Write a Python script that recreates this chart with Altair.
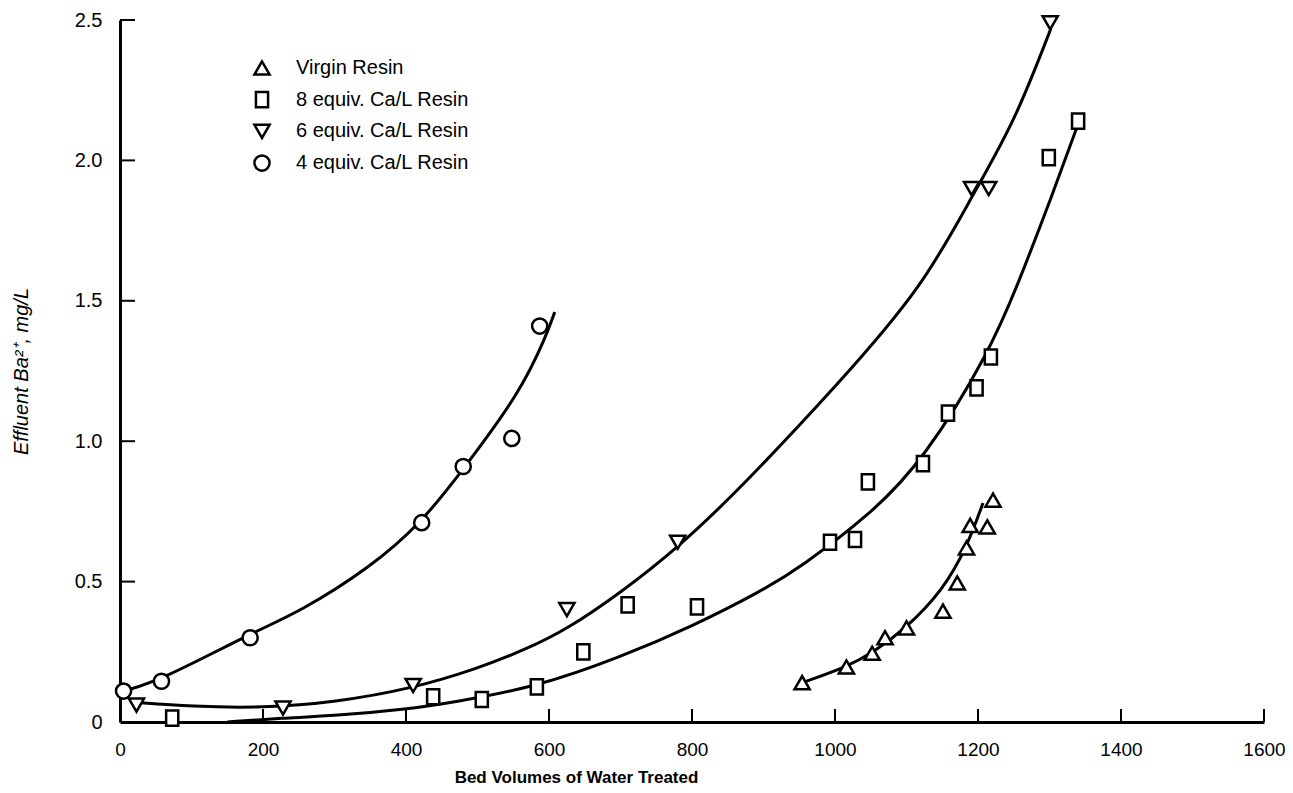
import altair as alt
import pandas as pd

# ---------------- data ----------------
series_names = ["Virgin Resin", "8 equiv. Ca/L Resin", "6 equiv. Ca/L Resin", "4 equiv. Ca/L Resin"]

# measured points
virgin_x = [954, 1016, 1052, 1070, 1100, 1151, 1171, 1184, 1189, 1213, 1221]
virgin_y = [0.14, 0.196, 0.245, 0.30, 0.335, 0.395, 0.495, 0.62, 0.70, 0.695, 0.79]

ca8_x = [73, 438, 506, 583, 648, 710, 807, 993, 1028, 1046, 1123, 1158, 1198, 1218, 1299, 1340]
ca8_y = [0.014, 0.09, 0.08, 0.125, 0.25, 0.417, 0.41, 0.64, 0.65, 0.855, 0.92, 1.10, 1.19, 1.30, 2.01, 2.14]

ca6_x = [23, 228, 410, 625, 780, 1191, 1215, 1301]
ca6_y = [0.06, 0.05, 0.13, 0.40, 0.64, 1.90, 1.90, 2.49]

ca4_x = [5, 58, 182, 422, 480, 548, 587]
ca4_y = [0.11, 0.145, 0.30, 0.71, 0.91, 1.01, 1.41]

# fitted curves
virgin_cx = [954, 1016, 1052, 1100, 1151, 1184, 1207]
virgin_cy = [0.14, 0.196, 0.245, 0.335, 0.47, 0.62, 0.78]

ca8_cx = [150, 228, 300, 400, 466, 583, 699, 800, 900, 951, 1050, 1123, 1217, 1259, 1300, 1340]
ca8_cy = [0.0, 0.014, 0.022, 0.045, 0.07, 0.125, 0.23, 0.34, 0.47, 0.55, 0.74, 0.93, 1.32, 1.58, 1.85, 2.13]

ca6_cx = [20, 100, 200, 300, 410, 500, 569, 625, 700, 780, 867, 1007, 1123, 1193, 1250, 1302]
ca6_cy = [0.07, 0.055, 0.05, 0.07, 0.12, 0.19, 0.26, 0.33, 0.46, 0.62, 0.83, 1.21, 1.55, 1.88, 2.13, 2.47]

ca4_cx = [5, 58, 186, 250, 350, 422, 480, 559, 597, 608]
ca4_cy = [0.11, 0.15, 0.32, 0.39, 0.55, 0.71, 0.90, 1.17, 1.38, 1.46]

x_tick_values = [0, 200, 400, 600, 800, 1000, 1200, 1400, 1600]
y_tick_values = [0, 0.5, 1.0, 1.5, 2.0, 2.5]

# ---------------- tables ----------------
pts = []
for name, xs_, ys_ in zip(series_names, [virgin_x, ca8_x, ca6_x, ca4_x], [virgin_y, ca8_y, ca6_y, ca4_y]):
    for a, b in zip(xs_, ys_):
        pts.append({"series": name, "x": a, "y": b})
pt_df = pd.DataFrame(pts)

crv = []
for name, xs_, ys_ in zip(series_names, [virgin_cx, ca8_cx, ca6_cx, ca4_cx], [virgin_cy, ca8_cy, ca6_cy, ca4_cy]):
    for i, (a, b) in enumerate(zip(xs_, ys_)):
        crv.append({"series": name, "x": a, "y": b, "idx": i})
crv_df = pd.DataFrame(crv)

xt_df = pd.DataFrame({"x": x_tick_values[1:]})
yt_df = pd.DataFrame({"y": y_tick_values[1:]})

FONT = "Liberation Sans"
W, H = 1144, 702

xs = alt.Scale(domain=[0, 1600], nice=False, zero=False)
ys = alt.Scale(domain=[0, 2.5], nice=False, zero=False)

x_axis = alt.Axis(
    values=x_tick_values, tickSize=0, labelPadding=18, labelFontSize=19, labelFont=FONT,
    labelColor="black", domainColor="black", domainWidth=3, grid=False, labelFlush=False,
    labelExpr="format(datum.value, 'd')",
    title="Bed Volumes of Water Treated", titleFont=FONT, titleFontSize=17, titleFontWeight="bold",
    titleColor="black", titleX=456, titleY=60, titleAlign="center", titleBaseline="alphabetic",
)
y_axis = alt.Axis(
    values=y_tick_values, tickSize=0, labelPadding=18, labelFontSize=20, labelFont=FONT,
    labelColor="black", domainColor="black", domainWidth=3, grid=False, labelFlush=False,
    labelExpr="datum.value == 0 ? '0' : format(datum.value, '.1f')",
    title="Effluent Ba²⁺, mg/L", titleFont=FONT, titleFontSize=20, titleFontStyle="italic",
    titleFontWeight="normal", titleColor="black", titleX=-99, titleY=351, titleAngle=270,
    titleAlign="center", titleBaseline="middle",
)

lines = alt.Chart(crv_df).mark_line(color="black", strokeWidth=3, interpolate="basis").encode(
    x=alt.X("x:Q", scale=xs, axis=x_axis),
    y=alt.Y("y:Q", scale=ys, axis=y_axis),
    detail="series:N",
    order="idx:Q",
)

shape_range = ["triangle-up", "M-0.8,-1H0.8V1H-0.8Z", "triangle-down", "circle"]
SYM = 230

points = alt.Chart(pt_df).mark_point(
    fill="white", stroke="black", strokeWidth=2.5, opacity=1, fillOpacity=1, size=SYM
).encode(
    x=alt.X("x:Q", scale=xs),
    y=alt.Y("y:Q", scale=ys),
    shape=alt.Shape("series:N", scale=alt.Scale(domain=series_names, range=shape_range), legend=None),
)

xticks = alt.Chart(xt_df).mark_rule(color="black", strokeWidth=2).encode(
    x=alt.X("x:Q", scale=xs),
    y=alt.value(H),
    y2=alt.value(H - 13),
)
yticks = alt.Chart(yt_df).mark_rule(color="black", strokeWidth=2).encode(
    y=alt.Y("y:Q", scale=ys),
    x=alt.value(0),
    x2=alt.value(15),
)

# hand-built legend (pixel placement inside the plot area)
legend_layers = []
for i, (name, shp) in enumerate(zip(series_names, shape_range)):
    row_y = 48 + 31.7 * i
    ldf = pd.DataFrame({"series": [name]})
    legend_layers.append(
        alt.Chart(ldf).mark_point(shape=shp, fill="white", stroke="black", strokeWidth=2.5,
                                  opacity=1, fillOpacity=1, size=SYM).encode(
            x=alt.value(142), y=alt.value(row_y))
    )
    legend_layers.append(
        alt.Chart(ldf).mark_text(align="left", baseline="middle", font=FONT, fontSize=20,
                                 color="black").encode(
            x=alt.value(176), y=alt.value(row_y), text="series:N")
    )

chart = alt.layer(lines, xticks, yticks, points, *legend_layers).properties(
    width=W, height=H,
    autosize=alt.AutoSizeParams(type="none"),
    padding={"left": 112, "top": 12, "right": 21, "bottom": 63},
    background="white",
).configure_view(stroke=None)

chart.save("out.html", embed_options={"renderer": "svg", "actions": False})
